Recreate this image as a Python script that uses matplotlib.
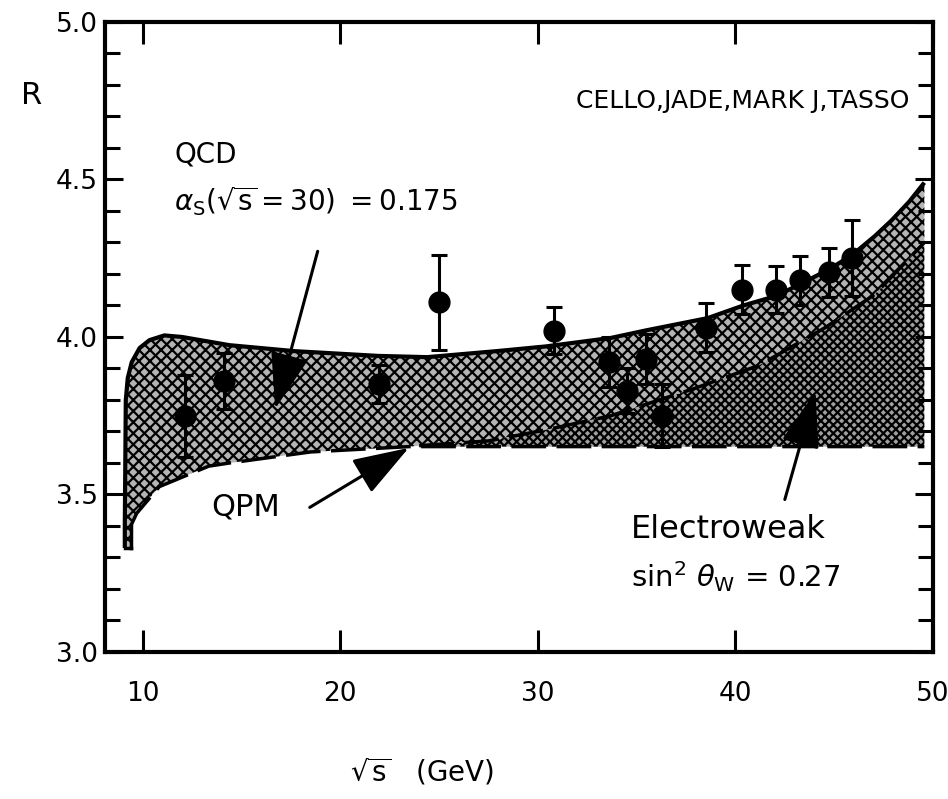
import numpy as np
import matplotlib
matplotlib.use("Agg")
from matplotlib import pyplot as plt

# measured R values (CELLO, JADE, MARK J, TASSO)
sqrt_s = [12.15, 14.1, 21.97, 25.0, 30.8, 33.6, 34.5, 35.5, 36.3, 38.5, 40.35, 42.05, 43.25, 44.75, 45.9]
R = [3.75, 3.86, 3.85, 4.11, 4.02, 3.92, 3.83, 3.93, 3.75, 4.03, 4.15, 4.15, 4.18, 4.205, 4.25]
R_err = [0.13, 0.09, 0.06, 0.15, 0.075, 0.08, 0.07, 0.078, 0.10, 0.078, 0.078, 0.075, 0.077, 0.077, 0.12]

# QCD band upper edge
qcd_x = [9.1, 9.1, 9.15, 9.25, 9.45, 9.85, 10.35, 11.1, 12.0, 14.4, 17.7, 21.9, 24.4, 27.9, 30.4,
         33.7, 35.4, 37.0, 38.6, 40.4, 42.05, 43.25, 44.75, 45.9, 47.05, 47.9, 48.8, 49.56]
qcd_y = [3.33, 3.40, 3.80, 3.87, 3.92, 3.965, 3.99, 4.005, 4.0, 3.974, 3.955, 3.94, 3.936, 3.955, 3.97,
         3.997, 4.02, 4.04, 4.06, 4.10, 4.13, 4.167, 4.215, 4.26, 4.32, 4.37, 4.43, 4.49]

# electroweak curve (sin^2 theta_W = 0.27)
ew_x = [24.0, 27.5, 30.4, 33.7, 37.9, 41.2, 44.55, 47.05, 49.56]
ew_y = [3.655, 3.67, 3.705, 3.75, 3.836, 3.91, 4.03, 4.135, 4.30]

# quark parton model
qpm_x = [9.4, 9.4, 9.7, 10.85, 13.35, 14.4, 18.5, 23.5, 49.56]
qpm_y = [3.33, 3.40, 3.44, 3.525, 3.59, 3.60, 3.635, 3.652, 3.652]

plt.rcParams["font.family"] = ["DejaVu Sans"]
plt.rcParams["hatch.linewidth"] = 1.6

fig = plt.figure(figsize=(9.48, 7.99), dpi=100)
ax = fig.add_axes([0.1108, 0.1840, 0.8734, 0.7885])

# QCD band: upper edge forward, lower edges backward
band_x = qcd_x + ew_x[::-1] + qpm_x[-2::-1]
band_y = qcd_y + ew_y[::-1] + qpm_y[-2::-1]
ax.fill(band_x, band_y, facecolor="#b4b4b4", edgecolor="black", hatch="xxx", linewidth=0, zorder=1)

ew_band_x = ew_x + ew_x[::-1]
ew_band_y = ew_y + [qpm_y[-1]] * len(ew_x)
ax.fill(ew_band_x, ew_band_y, facecolor="#a0a0a0", edgecolor="black", hatch="xxxx", linewidth=0, zorder=1)

ax.plot(qcd_x, qcd_y, color="black", lw=3, solid_capstyle="butt", zorder=3)
ax.plot([qcd_x[0], qpm_x[0]], [qcd_y[0], qpm_y[0]], color="black", lw=2.5, zorder=3)
ax.plot(qpm_x[:2], qpm_y[:2], color="black", lw=2.5, zorder=3)
ax.plot(qpm_x[1:], qpm_y[1:], color="black", lw=2.5, dashes=(10, 3), zorder=3)
ax.plot(ew_x, ew_y, color="black", lw=2.5, dashes=(10, 3), zorder=3)

ax.errorbar(sqrt_s, R, yerr=R_err, fmt="o", color="black", ms=15, elinewidth=2.2,
            capsize=6, capthick=2.2, zorder=4)

ax.set_xlim(8.1, 49.56)
ax.set_ylim(3.0, 5.0)
ax.set_xticks([10, 20, 30, 40, 50])
ax.set_yticks([3.0, 3.5, 4.0, 4.5, 5.0])
ax.set_yticks(np.arange(3.0, 5.01, 0.1), minor=True)
ax.set_yticklabels(["3.0", "3.5", "4.0", "4.5", "5.0"])
ax.tick_params(axis="both", which="both", direction="in", labelsize=19, width=2.2)
ax.tick_params(axis="x", which="major", length=16, top=True, pad=21)
ax.tick_params(axis="y", which="major", length=13, right=True, pad=5)
ax.tick_params(axis="y", which="minor", length=11, right=True)
for sp in ax.spines.values():
    sp.set_linewidth(3)

arrow = dict(arrowstyle="-|>,head_length=1.75,head_width=0.6", mutation_scale=20,
             color="black", lw=2.2, shrinkA=0, shrinkB=0)
ax.annotate("", xy=(16.71, 3.772), xytext=(18.86, 4.272), arrowprops=arrow, zorder=5)
ax.annotate("", xy=(23.47, 3.648), xytext=(18.46, 3.459), arrowprops=arrow, zorder=5)
ax.annotate("", xy=(44.05, 3.827), xytext=(42.5, 3.484), arrowprops=arrow, zorder=5)

ax.text(11.6, 4.58, "QCD", fontsize=20, va="center")
ax.text(11.6, 4.43, r"$\alpha_{\mathrm{S}}(\sqrt{\mathrm{s}}=30)\ =0.175$", fontsize=20, va="center")
ax.text(48.8, 4.75, "CELLO,JADE,MARK J,TASSO", fontsize=18, va="center", ha="right")
ax.text(13.5, 3.46, "QPM", fontsize=22, va="center")
ax.text(34.7, 3.39, "Electroweak", fontsize=23, va="center")
ax.text(34.7, 3.24, r"sin$^2$ $\theta_{\mathrm{W}}$ = 0.27", fontsize=21, va="center")

fig.text(0.033, 0.88, "R", fontsize=22, va="center", ha="center")
fig.text(0.445, 0.034, r"$\sqrt{\mathrm{s}}$   (GeV)", fontsize=20, va="center", ha="center")

fig.savefig("out.png", dpi=100)
